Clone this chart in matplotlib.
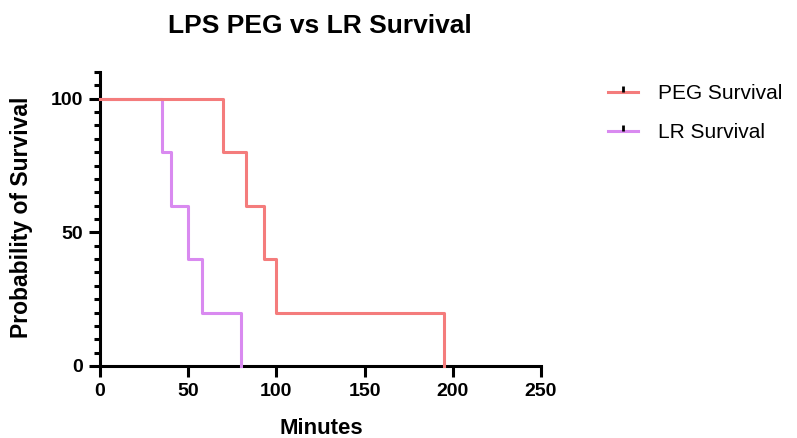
import matplotlib
matplotlib.use("Agg")
import matplotlib.pyplot as plt
from matplotlib.lines import Line2D
from matplotlib.path import Path
from matplotlib.ticker import MultipleLocator

plt.rcParams['font.family'] = ['Liberation Sans', 'DejaVu Sans']

peg_times = [0, 70, 83, 93, 100, 195]
peg_surv = [100, 80, 60, 40, 20, 0]
lr_times = [0, 35, 40, 50, 58, 80]
lr_surv = [100, 80, 60, 40, 20, 0]
series_names = ["PEG Survival", "LR Survival"]
colors = ["#F47C7C", "#D98AF0"]

W, H = 797, 438
fig = plt.figure(figsize=(W/100, H/100), dpi=100)
ax = fig.add_axes([100/W, 1-366/H, 441/W, (366-72)/H])

# draw LR first so PEG sits on top where they overlap
ax.step(lr_times, lr_surv, where='post', color=colors[1], lw=2.2, clip_on=False, zorder=3)
ax.step(peg_times, peg_surv, where='post', color=colors[0], lw=2.2, clip_on=False, zorder=4)

ax.set_xlim(0, 250)
ax.set_ylim(0, 110)
ax.xaxis.set_major_locator(MultipleLocator(50))
ax.yaxis.set_major_locator(MultipleLocator(50))
ax.yaxis.set_minor_locator(MultipleLocator(5))
for sp in ['top', 'right']:
    ax.spines[sp].set_visible(False)
for sp in ['left', 'bottom']:
    ax.spines[sp].set_linewidth(2.2)
ax.tick_params(which='major', direction='out', length=8, width=2.2, labelsize=14, pad=4)
ax.tick_params(which='minor', direction='out', length=4.5, width=2.2)
for lab in ax.get_xticklabels() + ax.get_yticklabels():
    lab.set_fontweight('bold')

fig.text(319.5/W, 1-33.3/H, "LPS PEG vs LR Survival", fontsize=19, fontweight='bold',
         ha='center', va='baseline')
fig.text(321/W, 1-434.5/H, "Minutes", fontsize=16, fontweight='bold', ha='center', va='baseline')
fig.text(28.3/W, 1-217.5/H, "Probability of Survival", fontsize=16.5, fontweight='bold',
         ha='center', va='baseline', rotation=90, rotation_mode='anchor')

tick_up = Path([[0, 0], [0, 1]])
handles = []
for c in colors:
    l1 = Line2D([], [], color=c, lw=2.2)
    l2 = Line2D([], [], color='black', marker=tick_up, markersize=8, mew=2.0, linestyle='none')
    handles.append((l1, l2))
fig.legend(handles, series_names, loc='upper left', bbox_to_anchor=(608/W, 1-84/H),
           frameon=False, fontsize=15, handlelength=1.45, labelspacing=0.95, handletextpad=0.95,
           borderpad=0, borderaxespad=0)

fig.savefig("out.png", dpi=100)
